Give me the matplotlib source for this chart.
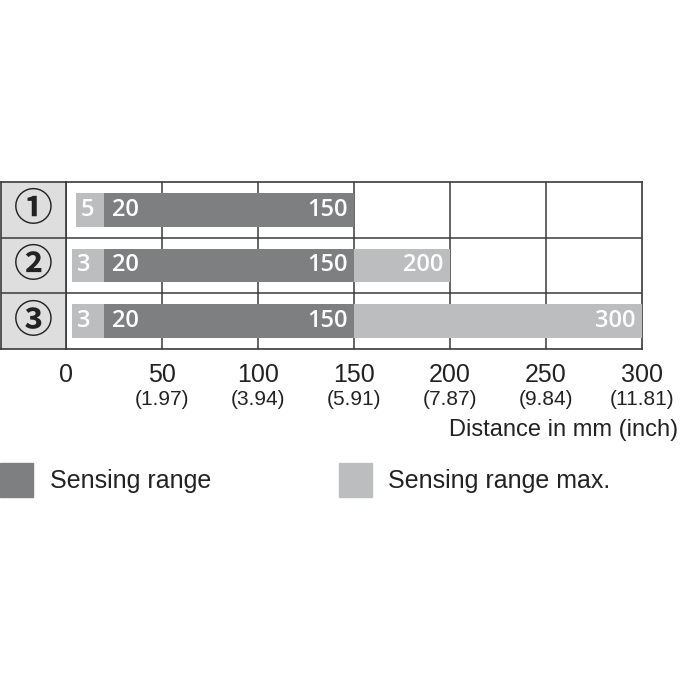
import matplotlib
matplotlib.use("Agg")
import matplotlib.pyplot as plt
from matplotlib.patches import Patch
from matplotlib.transforms import blended_transform_factory

plt.rcParams['font.family'] = ['Liberation Sans', 'DejaVu Sans', 'Noto Sans CJK JP']

# --- data ---
row_labels = ['①', '②', '③']
min_dist = [5, 3, 3]          # start of light segment (mm)
range_start = [20, 20, 20]    # start of sensing range
range_end = [150, 150, 150]   # end of sensing range
max_end = [150, 200, 300]     # end of max sensing range
ticks_mm = [0, 50, 100, 150, 200, 250, 300]
ticks_inch = ['', '(1.97)', '(3.94)', '(5.91)', '(7.87)', '(9.84)', '(11.81)']

dark = '#7e7f81'
light = '#bcbdbf'
line_col = '#3a3a3a'
txt_col = '#222222'
W = H = 680

fig = plt.figure(figsize=(6.8, 6.8), dpi=100)

# main table
x0, x1, y0, y1 = 66, 642, 182, 349
ax = fig.add_axes([x0 / W, 1 - y1 / H, (x1 - x0) / W, (y1 - y0) / H])
ax.set_xlim(0, 300)
ax.set_ylim(len(row_labels), 0)

bh = 0.61
lab_kw = dict(color='white', fontsize=17, va='center', zorder=4,
              family=['Open Sans', 'DejaVu Sans'], fontweight='semibold')
for i in range(len(row_labels)):
    yc = i + 0.5
    ax.barh(yc, range_start[i] - min_dist[i], left=min_dist[i], height=bh, color=light, zorder=3)
    ax.barh(yc, range_end[i] - range_start[i], left=range_start[i], height=bh, color=dark, zorder=3)
    if max_end[i] > range_end[i]:
        ax.barh(yc, max_end[i] - range_end[i], left=range_end[i], height=bh, color=light, zorder=3)
        ax.text(max_end[i] - 3.2, yc, str(max_end[i]), ha='right', **lab_kw)
    ax.text(min_dist[i] + 2.8, yc, str(min_dist[i]), ha='left', **lab_kw)
    ax.text(range_start[i] + 3.8, yc, str(range_start[i]), ha='left', **lab_kw)
    ax.text(range_end[i] - 3.2, yc, str(range_end[i]), ha='right', **lab_kw)

ax.vlines(ticks_mm[1:-1], 0, len(row_labels), color=line_col, lw=1.1, zorder=1)
ax.hlines(range(1, len(row_labels)), 0, 300, color=line_col, lw=1.1, zorder=1)
for s in ax.spines.values():
    s.set_color(line_col)
    s.set_linewidth(1.2)
ax.set_yticks([])
ax.set_xticks(ticks_mm)
ax.set_xticklabels([str(t) for t in ticks_mm], fontsize=18, color=txt_col)
ax.tick_params(axis='x', length=0, pad=10)

trans = blended_transform_factory(ax.transData, ax.transAxes)
for t, lab in zip(ticks_mm, ticks_inch):
    ax.text(t, -0.305, lab, transform=trans, ha='center', va='center', fontsize=15, color=txt_col)
fig.text(678 / W, 1 - 430 / H, 'Distance in mm (inch)', ha='right', va='center', fontsize=17, color=txt_col)

# left column with row numbers
axl = fig.add_axes([1 / W, 1 - y1 / H, (x0 - 1) / W, (y1 - y0) / H])
axl.set_facecolor('#dedede')
axl.set_xlim(0, 1)
axl.set_ylim(len(row_labels), 0)
axl.hlines(range(1, len(row_labels)), 0, 1, color=line_col, lw=1.1)
for i, lab in enumerate(row_labels):
    axl.text(0.5, i + 0.5, lab, ha='center', va='center', fontsize=28, color=txt_col,
             family=['Noto Sans CJK JP', 'DejaVu Sans'], fontweight='bold')
axl.set_xticks([])
axl.set_yticks([])
for s in axl.spines.values():
    s.set_color(line_col)
    s.set_linewidth(1.2)

# legend
handles = [Patch(color=dark, label='Sensing range'), Patch(color=light, label='Sensing range max.')]
fig.legend(handles=handles, loc='center left', bbox_to_anchor=(0.0, 1 - 480 / H), ncol=2,
           frameon=False, fontsize=18, handlelength=1.33, handleheight=1.74,
           handletextpad=0.66, columnspacing=5.1, borderpad=0, borderaxespad=0,
           labelcolor=txt_col)

fig.savefig('out.png', dpi=100)
